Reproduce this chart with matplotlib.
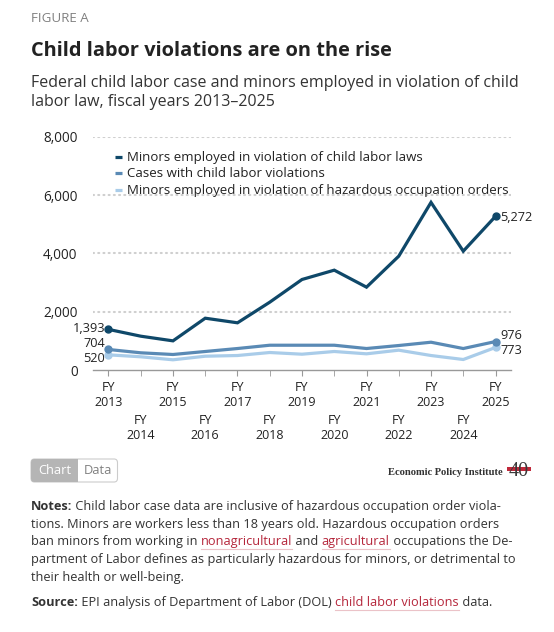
import numpy as np
import matplotlib
matplotlib.use("Agg")
import matplotlib.pyplot as plt
from matplotlib.patches import FancyBboxPatch, Rectangle
from matplotlib.transforms import Bbox

W, H = 554, 632

years = list(range(2013, 2026))
minors = [1393, 1160, 1000, 1777, 1619, 2326, 3105, 3425, 2842, 3905, 5750, 4077, 5272]
cases = [704, 590, 532, 635, 737, 850, 850, 850, 737, 840, 953, 737, 976]
hazard = [520, 453, 350, 473, 497, 600, 542, 635, 555, 680, 497, 360, 773]

series_names = ["Minors employed in violation of child labor laws",
                "Cases with child labor violations",
                "Minors employed in violation of hazardous occupation orders"]
colors = ["#0f4869", "#5a8ab5", "#a9cce9"]
yticks = [0, 2000, 4000, 6000, 8000]

plt.rcParams['font.family'] = ['Open Sans', 'DejaVu Sans']
TXT = "#333333"


def fx(px):
    return px / W


def fy(py):
    return 1 - py / H


fig = plt.figure(figsize=(W / 100, H / 100), dpi=100)
fig.patch.set_facecolor("white")

# header
fig.text(fx(31), fy(22), "FIGURE A", fontsize=9.6, color="#808080", va="baseline")
fig.text(fx(31), fy(56), "Child labor violations are on the rise", fontsize=14.4,
         fontweight="bold", color="#222222", va="baseline")
fig.text(fx(31), fy(87.3), "Federal child labor case and minors employed in violation of child",
         fontsize=11.5, color=TXT, va="baseline")
fig.text(fx(31), fy(106.3), "labor law, fiscal years 2013\u20132025",
         fontsize=11.5, color=TXT, va="baseline")

# chart
left, right, top, bottom = 93, 511, 136.8, 370
ax = fig.add_axes([fx(left), fy(bottom), (right - left) / W, (bottom - top) / H])
ax.set_xlim(2012.52, 2025.48)
ax.set_ylim(0, 8000)
for s in ["top", "right", "left"]:
    ax.spines[s].set_visible(False)
ax.spines["bottom"].set_color("#999999")
ax.spines["bottom"].set_linewidth(1.0)

for v in yticks[1:]:
    ax.axhline(v, color="#cfcfcf", linewidth=1.5, linestyle=(0, (0.5, 2.0)),
               dash_capstyle="round", zorder=0)

ax.set_yticks(yticks)
ax.set_yticklabels([f"{v:,}" for v in yticks])
ax.tick_params(axis="y", length=0, pad=11, labelsize=9.8, labelcolor="#222222")

odd = [y for y in years if y % 2 == 1]
even = [y for y in years if y % 2 == 0]
ax.set_xticks(odd)
ax.set_xticklabels([f"FY\n{y}" for y in odd])
ax.set_xticks(even, minor=True)
ax.set_xticklabels([f"FY\n{y}" for y in even], minor=True)
ax.tick_params(axis="x", which="major", length=4, color="#999999", pad=4,
               labelsize=9.0, labelcolor="#222222")
ax.tick_params(axis="x", which="minor", length=4, color="#999999", pad=28,
               labelsize=9.0, labelcolor="#222222")
for lab in ax.get_xticklabels() + ax.get_xticklabels(minor=True):
    lab.set_linespacing(1.2)

data = [minors, cases, hazard]
for vals, c, name in zip(data[::-1], colors[::-1], series_names[::-1]):
    ax.plot(years, vals, color=c, linewidth=2.3, solid_joinstyle="miter",
            solid_capstyle="butt", label=name)
    ax.plot([years[0], years[-1]], [vals[0], vals[-1]], "o", color=c,
            markersize=5, zorder=5)

clip = Bbox.from_extents(0, 0, 532, H)
start_offsets = [1.0, 4.6, -2.6]
end_offsets = [-1, 4.6, -2.2]
for vals, off_s, off_e in zip(data, start_offsets, end_offsets):
    ax.annotate(f"{vals[0]:,}", (years[0], vals[0]), xytext=(-2.5, off_s),
                textcoords="offset points", ha="right", va="center",
                fontsize=9.2, color="#222222")
    t = ax.annotate(f"{vals[-1]:,}", (years[-1], vals[-1]), xytext=(3.5, off_e),
                    textcoords="offset points", ha="left", va="center",
                    fontsize=9.2, color="#222222")
    t.set_clip_box(clip)
    t.set_clip_on(True)

# legend, drawn by hand for tight row spacing
for i, (name, c) in enumerate(zip(series_names, colors)):
    base = 160.7 + i * 16.7
    fig.add_artist(plt.Line2D([fx(115), fx(122)], [fy(base - 4)] * 2,
                              transform=fig.transFigure, color=c, linewidth=2.3,
                              solid_capstyle="butt"))
    fig.text(fx(127), fy(base), name, fontsize=9.5, color="#222222", va="baseline")

# Chart / Data toggle
btn = FancyBboxPatch((fx(31), fy(482)), fx(86.5), 23 / H,
                     boxstyle="round,pad=0,rounding_size=0.006",
                     transform=fig.transFigure, facecolor="white",
                     edgecolor="#cccccc", linewidth=0.8)
fig.add_artist(btn)
chart_box = FancyBboxPatch((fx(31), fy(482)), fx(47), 23 / H,
                           boxstyle="round,pad=0,rounding_size=0.006",
                           transform=fig.transFigure, facecolor="#b5b5b5",
                           edgecolor="none")
fig.add_artist(chart_box)
fig.add_artist(Rectangle((fx(60), fy(482)), fx(18), 23 / H,
                         transform=fig.transFigure, facecolor="#b5b5b5",
                         edgecolor="none"))
fig.text(fx(54.5), fy(474.5), "Chart", fontsize=9.3, color="white", ha="center", va="baseline")
fig.text(fx(97.5), fy(474.5), "Data", fontsize=9.3, color="#808080", ha="center", va="baseline")

# logo
fig.text(fx(503), fy(475), "Economic Policy Institute", fontsize=7.6,
         family="Liberation Serif", fontweight="bold", color="#333333",
         ha="right", va="baseline")
fig.add_artist(Rectangle((fx(507), fy(471)), fx(24), 4.5 / H,
                         transform=fig.transFigure, facecolor="#c0283a",
                         edgecolor="none"))
fig.text(fx(519), fy(476), "40", fontsize=14.5, family="Liberation Serif",
         color="#3a3a3a", ha="center", va="baseline")

# notes with links
fig.canvas.draw()
renderer = fig.canvas.get_renderer()
link_color = "#b5263b"


def rich_line(x_px, y_px, parts, size=9.2):
    x = fx(x_px)
    for txt, style in parts:
        kw = dict(fontsize=size, va="baseline", color=TXT)
        if style == "b":
            kw["fontweight"] = "bold"
        if style == "l":
            kw["color"] = link_color
        t = fig.text(x, fy(y_px), txt, **kw)
        bb = t.get_window_extent(renderer=renderer)
        if style == "l":
            fig.add_artist(plt.Line2D([x, x + bb.width / W], [fy(y_px + 4)] * 2,
                                      transform=fig.transFigure, color="#ebc3c8",
                                      linewidth=0.8))
        x += bb.width / W
    return x


rich_line(31, 510, [("Notes:", "b"),
                    (" Child labor case data are inclusive of hazardous occupation order viola-", "")])
rich_line(31, 527.7, [("tions. Minors are workers less than 18 years old. Hazardous occupation orders", "")])
rich_line(31, 545.3, [("ban minors from working in ", ""), ("nonagricultural", "l"), (" and ", ""),
                      ("agricultural", "l"), (" occupations the De-", "")])
rich_line(31, 563.2, [("partment of Labor defines as particularly hazardous for minors, or detrimental to", "")])
rich_line(31, 581, [("their health or well-being.", "")])
rich_line(31, 605.7, [("Source:", "b"), (" EPI analysis of Department of Labor (DOL) ", ""),
                      ("child labor violations", "l"), (" data.", "")])

fig.savefig("out.png", dpi=100)
